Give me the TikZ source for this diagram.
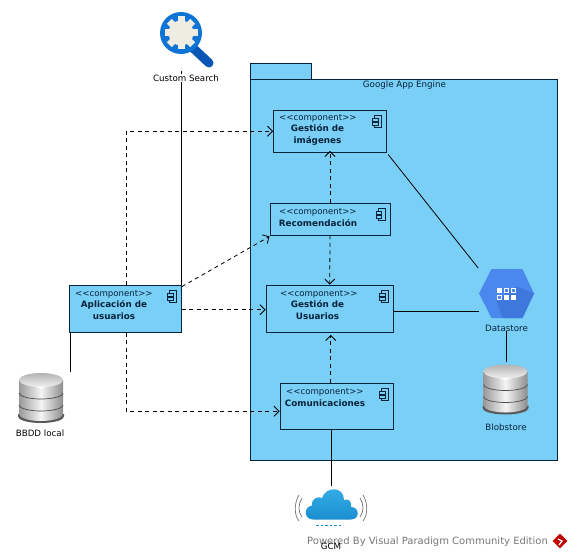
\documentclass[tikz,border=0pt]{standalone}
\usepackage{fontspec}
\setmainfont{DejaVu Sans}
\usetikzlibrary{arrows.meta, positioning, calc, shapes.geometric}

\definecolor{gaeblue}{HTML}{7ACFF6}
\definecolor{inkblue}{HTML}{06233C}
\definecolor{gcpblue}{HTML}{4A88EE}
\definecolor{gcpdark}{HTML}{3F78DC}
\definecolor{lensblue}{HTML}{0F74D6}
\definecolor{lensdark}{HTML}{0A56B5}
\definecolor{gearcream}{HTML}{EFEDE2}
\definecolor{cloudtop}{HTML}{35AEE6}
\definecolor{cloudlow}{HTML}{1C8FD0}
\definecolor{wmgray}{HTML}{777777}

\tikzset{
  compbox/.style={draw=inkblue, fill=gaeblue, line width=0.9pt, inner sep=0pt},
  stereo/.style={font=\fontsize{8.6}{10}\selectfont, text=inkblue, inner sep=0pt, anchor=west},
  compname/.style={font=\fontsize{8.8}{12}\selectfont\bfseries, text=inkblue, inner sep=0pt, align=center},
  usage/.style={draw=black, line width=0.8pt, dash pattern=on 4pt off 3.5pt,
                -{Straight Barb[length=5pt,width=10pt]}},
  assoc/.style={draw=black, line width=0.8pt},
  iconlabel/.style={font=\fontsize{8.7}{10}\selectfont, inner sep=0pt},
  iconspot/.style={inner sep=0pt},
  compicon/.pic={
    \draw[inkblue, line width=0.7pt] (-3.5,-6) rectangle (3.5,6);
    \draw[inkblue, line width=0.7pt, fill=gaeblue] (-5.5,-3.5) rectangle (0,-0.5);
    \draw[inkblue, line width=0.7pt, fill=gaeblue] (-5.5,0.5) rectangle (0,3.5);
  },
  dbicon/.pic={
    \fill[black!65] (-23,17) -- (-23,19.5) arc[x radius=23, y radius=6.5, start angle=180, end angle=0] -- (23,17) -- cycle;
    \shade[left color=black!40, right color=black!45, middle color=black!4]
      (-22,-17) -- (-22,17) arc[x radius=22, y radius=7, start angle=180, end angle=0]
      -- (22,-17) -- cycle;
    \shade[top color=black!30, bottom color=black!6]
      (0,-17) ellipse[x radius=22, y radius=7];
    \fill[white] (-6,-10.5) -- (6,-10.5) -- (0,-8.5) -- cycle;
    \foreach \yy in {-4,8} {
      \draw[black!70, line width=0.7pt] (-22,\yy) arc[x radius=22, y radius=6, start angle=180, end angle=0];
    }
  },
  hexicon/.pic={
    \fill[gcpblue] (-27.5,0) -- (-15,-24.5) -- (16,-24.5) -- (27.5,0) -- (16,24.5) -- (-15,24.5) -- cycle;
    \fill[gcpdark] (10,-7) -- (27.5,0) -- (16,24.5) -- (-4,24.5) -- (-10,7) -- cycle;
    \foreach \i/\j/\sq in {0/0/white,1/0/gcpblue,2/0/gcpblue,0/1/gcpblue,1/1/white,2/1/white} {
      \draw[white, fill=\sq, line width=0.8pt] (-9.5+\i*7,-5.5+\j*7) rectangle ++(4.5,4.5);
    }
  },
  lensicon/.pic={
    \draw[line width=9pt, line cap=round, lensdark] (12,15) -- (28,30);
    \fill[lensblue] (0,0) circle[radius=21];
    \fill[gearcream] (0,0) circle[radius=12.5];
    \foreach \a in {0,45,...,315} {
      \fill[gearcream, rotate=\a] (-3.5,-16.5) rectangle (3.5,-10);
    }
  },
  cloudicon/.pic={
    \shade[top color=cloudtop, bottom color=cloudlow]
      (-18,15.5) .. controls (-27,15.5) and (-28,3) .. (-19,1.5)
      .. controls (-20,-6) and (-12,-8) .. (-9,-6)
      .. controls (-5,-18) and (13,-18) .. (13,-4)
      .. controls (18,-6) and (21,-2) .. (20,3)
      .. controls (29,3) and (29,15.5) .. (20,15.5) -- cycle;
    \foreach \s in {-1,1} {
      \draw[black!55, line width=0.7pt] (\s*29,-6) .. controls (\s*33,0) and (\s*33,8) .. (\s*29,13);
      \draw[black!55, line width=0.7pt] (\s*32,-9) .. controls (\s*37,-1) and (\s*37,11) .. (\s*32,17);
    }
    \foreach \i in {0,...,5} {
      \fill[cloudlow] (-15+\i*4.5,20.5) rectangle ++(2.5,1.2);
    }
  },
}

\begin{document}
\begin{tikzpicture}[x=1pt, y=-1pt, >=Stealth]
  \useasboundingbox (0,0) rectangle (572,559);

  % Package
  \draw[draw=inkblue, fill=gaeblue, line width=0.8pt] (250.5,63) rectangle (311,79);
  \node[draw=inkblue, fill=gaeblue, line width=0.8pt, inner sep=0pt,
        minimum width=306.5pt, minimum height=381pt] (gae) at (403.75,269.5) {};
  \node[iconlabel, text=inkblue] (gaelabel) at (404.5,85) {Google App Engine};

  % Components
  \foreach \id/\cx/\cy/\w/\h in {img/330/131.25/113/42.5, rec/330/219/120/32,
                                 usu/329.75/308.75/127.5/47.5, com/336.75/406.25/113.5/46.5,
                                 app/125.5/308.75/112/47.5} {
    \node[compbox, minimum width=\w pt, minimum height=\h pt] (\id) at (\cx,\cy) {};
    \path (\id.north east) ++(-9,12) pic {compicon};
  }

  % Stereotypes
  \foreach \id/\tx/\ty in {img/279/118.5, rec/279/212.5, usu/280/294.5, com/286/392.5, app/75/294.5} {
    \node[stereo] (\id type) at (\tx,\ty) {<{}<component>{}>};
  }

  % Component names
  \node[compname] (imgname) at (317.5,135) {Gestión de\\imágenes};
  \node[compname] (recname) at (318,223) {Recomendación};
  \node[compname] (usuname) at (317.5,310.5) {Gestión de\\Usuarios};
  \node[compname] (comname) at (325,403) {Comunicaciones};
  \node[compname] (appname) at (114,310.5) {Aplicación de\\usuarios};

  % Icons
  \node[iconspot, minimum width=42pt, minimum height=42pt] (search) at (181,33) {};
  \node[iconspot, minimum width=55pt, minimum height=49pt] (datastore) at (506.5,293.5) {};
  \path (datastore) pic {hexicon};
  \node[iconspot, minimum width=44pt, minimum height=53pt] (blob) at (505.5,388.5) {};
  \path (blob) pic {dbicon};
  \node[iconspot, minimum width=44pt, minimum height=50pt] (bbdd) at (41,397) {};
  \path (bbdd) pic {dbicon};
  \node[iconspot, minimum width=58pt, minimum height=36pt] (gcm) at (331,504) {};
  \path (gcm) pic {cloudicon};
  \node[iconlabel, text=inkblue] (dslabel) at (506.5,328) {Datastore};
  \node[iconlabel, text=inkblue] (bloblabel) at (506,427) {Blobstore};
  \node[iconlabel] (bbddlabel) at (40,433) {BBDD local};

  % Solid links
  \draw[assoc] ([yshift=-17pt]search.south) -- (search.south |- app.north);
  \path (search) pic {lensicon};
  \draw[assoc, shorten <=2pt, shorten >=1pt] (img.south east) -- (datastore.north west);
  \draw[assoc] ([yshift=-2.5pt]usu.east) -- ([yshift=-2.5pt]usu.east -| datastore.west);
  \draw[assoc] (dslabel.south) -- (dslabel.south |- blob.north);
  \draw[assoc] ([xshift=-5.5pt]com.south) -- ([xshift=-5.5pt]com.south |- gcm.north);
  \draw[assoc] ([xshift=1.5pt]app.south west) -- ([xshift=1.5pt]app.south west |- bbdd.north);

  % Dependencies
  \draw[usage] ([xshift=0.5pt]app.north) |- (img.west);
  \draw[usage] ([yshift=-2pt]app.north east) -- ([yshift=-1pt]rec.south west);
  \draw[usage] ([yshift=-1pt]app.east) -- ([yshift=-1pt]usu.west);
  \draw[usage] ([xshift=0.5pt]app.south) |- ([yshift=-5pt]com.west);
  \draw[usage] (rec.north) -- ([yshift=2pt]img.south);
  \draw[usage] (rec.south) -- (usu.north);
  \draw[usage] ([xshift=-6pt]com.north) -- ([xshift=-6pt,yshift=-2pt]com.north |- usu.south);

  % Labels over the lines
  \node[iconlabel, fill=white, inner ysep=1pt] (searchlabel) at (186,78) {Custom Search};
  \node[font=\fontsize{10}{12}\selectfont, text=wmgray, inner sep=0pt, anchor=west] (watermark) at (307,542) {Powered By Visual Paradigm Community Edition};
  \node[iconlabel] (gcmlabel) at (331,546) {GCM};
  \node[diamond, fill=red!75!black, inner sep=0pt, minimum size=15pt] (logo) at (560,541) {};
  \draw[white, line width=1.3pt] ([xshift=-2pt,yshift=2pt]logo.center) -- ([xshift=2pt]logo.center) -- ([xshift=-1pt,yshift=-4pt]logo.center);
\end{tikzpicture}
\end{document}
